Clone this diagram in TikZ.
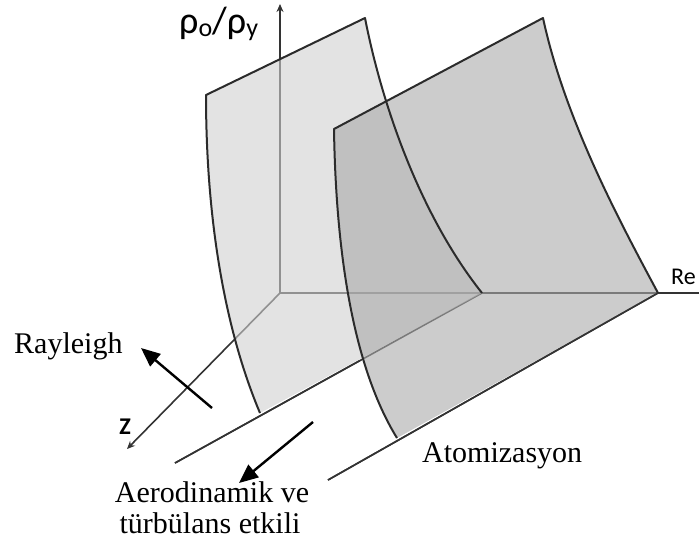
\documentclass[tikz,border=0pt]{standalone}
\usepackage{fontspec}
\setmainfont{Liberation Serif}
\newfontfamily\carl{Carlito}
\usetikzlibrary{arrows.meta}
\definecolor{axiscol}{gray}{0.2}
\definecolor{edgecol}{gray}{0.17}
\definecolor{backfill}{gray}{0.816}
\definecolor{frontfill}{gray}{0.667}
\tikzset{
  axisline/.style={draw=axiscol, line width=1.6pt},
  edgeline/.style={draw=edgecol, line width=2pt, line join=round},
  backsheet/.style={fill=backfill, fill opacity=0.6},
  frontsheet/.style={fill=frontfill, fill opacity=0.6},
  lab/.style={inner sep=0pt, font=\fontsize{30}{31}\selectfont},
  bigarrow/.style={draw=black, line width=2.4pt, -{Triangle[length=19pt,width=16pt]}},
  smalltip/.style={-{Stealth[length=8pt,width=7pt]}}
}
\begin{document}
\begin{tikzpicture}[x=1pt,y=-1pt]
\useasboundingbox (0,0) rectangle (699,550);
% coordinates
\coordinate (O) at (280,293);
\coordinate (Ytip) at (280,4);
\coordinate (Xend) at (705,293);
\coordinate (Ztip) at (127,449);
\coordinate (bTL) at (206,95);
\coordinate (bTR) at (365,18);
\coordinate (bBR) at (482,293);
\coordinate (bBL) at (260,413);
\coordinate (bF) at (175,463);
\coordinate (bX) at (360,360.5);
\coordinate (fTL) at (334,129);
\coordinate (fTR) at (543,18);
\coordinate (fBR) at (658,293);
\coordinate (fBL) at (397,438);
\coordinate (fF) at (328,480);
\coordinate (rA) at (212,408);
\coordinate (rB) at (141,348);
\coordinate (aA) at (313,422);
\coordinate (aB) at (239,483);
% axes and floor lines
\draw[axisline, smalltip] (O) -- (Ytip);
\draw[axisline] (O) -- (Xend);
\draw[axisline, smalltip] (O) -- (Ztip);
\draw[axisline] (bF) -- (bBR);
\draw[axisline] (fF) -- (fBR);
% sheet fills
\fill[backsheet] (bTL) -- (bTR) .. controls (382,105) and (420,215) .. (bBR) -- (bBL) .. controls (225,330) and (206,220) .. cycle;
\fill[frontsheet] (fTL) -- (fTR) .. controls (565,120) and (620,222) .. (fBR) -- (fBL) .. controls (355,370) and (336,260) .. cycle;
% sheet outlines
\draw[edgeline] (bBL) .. controls (225,330) and (206,220) .. (bTL) -- (bTR) .. controls (382,105) and (420,215) .. (bBR);
\draw[edgeline] (fBL) .. controls (355,370) and (336,260) .. (fTL) -- (fTR) .. controls (565,120) and (620,222) .. (fBR);
\draw[axisline] (bF) -- (bX);
\draw[axisline] (fF) -- (fBR);
% labels
\node[anchor=base west, inner sep=0pt, font=\carl\fontsize{38}{40}\selectfont] (rho) at (179,33)
  {ρ\raisebox{-3pt}{\fontsize{26}{26}\selectfont o}/ρ\raisebox{-3pt}{\fontsize{26}{26}\selectfont y}};
\node[anchor=base west, inner sep=0pt, font=\carl\fontsize{24}{26}\selectfont] (re) at (671,284) {Re};
\node[inner sep=0pt, font=\carl\bfseries\fontsize{24}{24}\selectfont] (zl) at (125,427) {Z};
\node[lab, anchor=base west] (ray) at (14,353) {Rayleigh};
\node[lab, anchor=base west] (atom) at (422,462) {Atomizasyon};
\node[lab, anchor=base] (aero1) at (212,502) {Aerodinamik ve};
\node[lab, anchor=base] (aero2) at (210,533) {türbülans etkili};
% effect arrows
\draw[bigarrow] (rA) -- (rB);
\draw[bigarrow] (aA) -- (aB);
\end{tikzpicture}
\end{document}
